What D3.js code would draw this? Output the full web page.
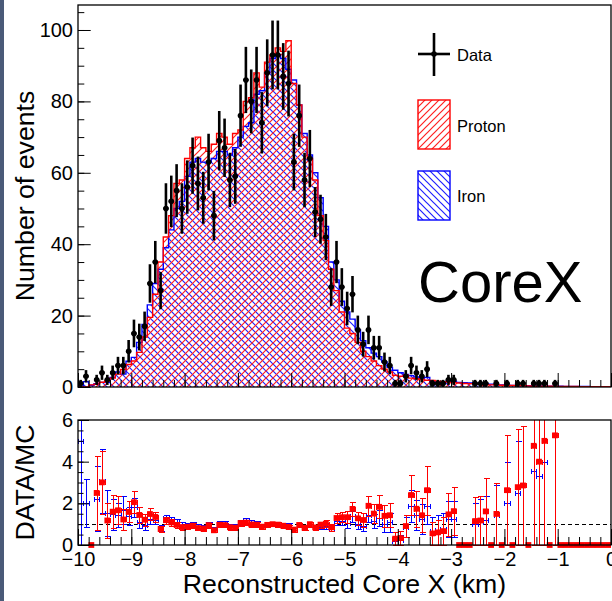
<!DOCTYPE html>
<html>
<head>
<meta charset="utf-8">
<script src="https://cdn.jsdelivr.net/npm/d3@7"></script>
<style>
  html, body { margin: 0; padding: 0; background: #fff; }
  svg { display: block; font-family: "Liberation Sans", Arial, sans-serif; }
</style>
</head>
<body>
<div id="chart"></div>
<script>
// binning of the histograms (km)
const binLow = -10;
const binWidth = 0.1;

const dataCounts = [
    1, 3, 0, 2, 4, 2, 4, 6, 6, 10,
    15, 14, 17, 29, 35, 27, 50, 52, 55, 50,
    56, 62, 57, 53, 63, 48, 69, 67, 58, 59,
    76, 86, 80, 86, 74, 88, 93, 93, 87, 85,
    63, 76, 58, 64, 49, 47, 42, 28, 35, 28,
    22, 26, 16, 12, 16, 11, 11, 7, 6, 1,
    1, 3, 6, 4, 3, 5, 1, 1, 1, 2,
    2, 0, 0, 0, 1, 1, 1, 0, 1, 0,
    1, 0, 1, 1, 0, 1, 1, 1, 0, 1,
    0, 0, 0, 0, 0, 0, 0, 0, 0, 0
];

const protonMC = [
    0, 0, 0.6, 0.8, 1.33, 1.7, 2.5, 3.6, 4.9, 6.3,
    7.3, 9.7, 14, 19.5, 26, 35, 42, 48, 57, 58,
    64, 67, 70, 67, 66, 68, 71, 70, 68, 71,
    72, 80, 81, 88, 84, 91, 93, 95, 94, 97,
    85, 79, 70, 64, 58, 48, 41, 33, 27, 21,
    16.5, 15, 12.5, 10, 8.5, 7.3, 6, 5, 4.2, 3.3,
    3.0, 3.3, 2.5, 2.3, 2.1, 1.9, 1.8, 1.65, 1.5, 1.36,
    1.23, 1.1, 1.0, 0.95, 0.87, 0.85, 0.62, 0.6, 0.67, 0.5,
    0.38, 0.4, 0.36, 0.35, 0.3, 0.21, 0.25, 0.2, 0.2, 0.19,
    0.15, 0.15, 0.12, 0.12, 0.1, 0.1, 0.08, 0.08, 0.05, 0.05
];

const ironMC = [
    0.2, 1.5, 0.5, 0.9, 1.3, 1.3, 2.7, 4.2, 3.6, 7.2,
    8.3, 12.5, 17.5, 23, 29, 33, 39, 44, 50, 52,
    59, 63, 64, 63, 63, 64, 66, 66, 65, 67,
    70, 73, 74, 82, 83, 88, 92, 93, 92, 89,
    86, 79, 71, 65, 60, 53, 45, 35, 30, 24,
    21, 19, 16, 13, 11, 9.5, 8.5, 7, 5.5, 4.7,
    4, 3.5, 3.2, 2.8, 2.4, 2.7, 1.5, 1.4, 1.3, 1.6,
    1.6, 1.3, 1.2, 1.1, 1.0, 0.9, 0.85, 0.8, 0.7, 0.6,
    0.5, 0.45, 0.4, 0.35, 0.33, 0.28, 0.3, 0.25, 0.22, 0.15,
    0.2, 0.18, 0.15, 0.15, 0.12, 0.12, 0.1, 0.1, 0.08, 0.06
];

const xTickValues = [-10, -9, -8, -7, -6, -5, -4, -3, -2, -1, 0];
const countTickValues = [0, 20, 40, 60, 80, 100];
const ratioTickValues = [0, 2, 4, 6];

const legendItems = ["Data", "Proton", "Iron"];

const W = 612, H = 601;
const left = 78, right = 611;
const topPanel = { top: 5, bottom: 387 };
const ratioPanel = { top: 420, bottom: 545 };
const FONT = "Liberation Sans, Arial, sans-serif";

const svg = d3.select("#chart")
    .append("svg")
    .attr("width", W)
    .attr("height", H);

svg.append("rect")
    .attr("x", 0).attr("y", 0)
    .attr("width", 4).attr("height", H)
    .attr("fill", "#4a5a78");

const x = d3.scaleLinear().domain([binLow, 0]).range([left, right]);
const y = d3.scaleLinear().domain([0, 107]).range([topPanel.bottom, topPanel.top]);
const yr = d3.scaleLinear().domain([0, 6]).range([ratioPanel.bottom, ratioPanel.top]);

const defs = svg.append("defs");

// hatch tiles: "/" for proton, "\" for iron
const T = 7;
const hatch = (id, color, d) => {
    defs.append("pattern")
        .attr("id", id)
        .attr("patternUnits", "userSpaceOnUse")
        .attr("width", T).attr("height", T)
      .append("path")
        .attr("d", d)
        .style("stroke", color)
        .style("stroke-width", "1.2px")
        .style("fill", "none");
};
hatch("hatchP", "#ff2020", `M-2,2 L2,-2 M-2,${T + 2} L${T + 2},-2 M${T - 2},${T + 2} L${T + 2},${T - 2}`);
hatch("hatchI", "#2020ff", `M-2,${T - 2} L2,${T + 2} M-2,-2 L${T + 2},${T + 2} M${T - 2},-2 L${T + 2},2`);

defs.append("clipPath").attr("id", "clipTop")
  .append("rect")
    .attr("x", left).attr("y", topPanel.top)
    .attr("width", right - left).attr("height", topPanel.bottom - topPanel.top);

defs.append("clipPath").attr("id", "clipRatio")
  .append("rect")
    .attr("x", left).attr("y", ratioPanel.top)
    .attr("width", right - left).attr("height", ratioPanel.bottom - ratioPanel.top + 4);

const edges = (arr) => {
    const pts = arr.map((v, i) => [binLow + i * binWidth, v]);
    pts.push([binLow + arr.length * binWidth, arr[arr.length - 1]]);
    return pts;
};
const binCenter = (i) => binLow + (i + 0.5) * binWidth;
const snap = (v) => Math.round(v) + 0.5;

// ---- top panel ----
const gTop = svg.append("g").attr("clip-path", "url(#clipTop)");

const area = d3.area()
    .x(d => x(d[0]))
    .y0(y(0))
    .y1(d => y(d[1]))
    .curve(d3.curveStepAfter);

const step = d3.line()
    .x(d => x(d[0]))
    .y(d => y(d[1]))
    .curve(d3.curveStepAfter);

const hists = [
    { values: ironMC, color: "#0000ff", fill: "url(#hatchI)" },
    { values: protonMC, color: "#ff0000", fill: "url(#hatchP)" }
];

hists.forEach(h => {
    gTop.append("path")
        .attr("d", area(edges(h.values)))
        .attr("fill", h.fill);
});
hists.forEach(h => {
    gTop.append("path")
        .attr("d", step(edges(h.values)))
        .attr("fill", "none")
        .attr("stroke", h.color)
        .attr("stroke-width", 1.4);
});

const points = dataCounts
    .map((n, i) => ({ i, n }))
    .filter(d => d.n > 0);

const dataG = gTop.append("g");
dataG.selectAll(".ey")
    .data(points)
    .enter().append("line")
    .attr("x1", d => x(binCenter(d.i)))
    .attr("x2", d => x(binCenter(d.i)))
    .attr("y1", d => y(d.n - Math.sqrt(d.n)))
    .attr("y2", d => y(d.n + Math.sqrt(d.n)))
    .attr("stroke", "#000")
    .attr("stroke-width", 2.6);
dataG.selectAll(".ex")
    .data(points)
    .enter().append("line")
    .attr("x1", d => x(binLow + d.i * binWidth))
    .attr("x2", d => x(binLow + (d.i + 1) * binWidth))
    .attr("y1", d => y(d.n))
    .attr("y2", d => y(d.n))
    .attr("stroke", "#000")
    .attr("stroke-width", 2);
dataG.selectAll("circle")
    .data(points)
    .enter().append("circle")
    .attr("cx", d => x(binCenter(d.i)))
    .attr("cy", d => y(d.n))
    .attr("r", 2.8)
    .attr("fill", "#000");

// axes of top panel (ticks inside the frame)
const noText = g => { g.select(".domain").remove(); g.selectAll("text").remove(); };

svg.append("g")
    .attr("transform", `translate(${left},0)`)
    .call(d3.axisLeft(y).tickValues(d3.range(0, 106, 5)).tickSize(-6.3))
    .call(noText);
svg.append("g")
    .attr("transform", `translate(${left},0)`)
    .call(d3.axisLeft(y).tickValues(countTickValues).tickSize(-12.7).tickPadding(5).tickFormat(d3.format("d")))
    .call(g => g.select(".domain").remove())
    .selectAll("text")
    .style("font-size", "20px")
    .style("font-family", FONT)
    .attr("fill", "#000");

svg.append("g")
    .attr("transform", `translate(0,${topPanel.bottom})`)
    .call(d3.axisBottom(x).tickValues(d3.range(-10, 0.01, 0.2)).tickSize(-7))
    .call(noText);
svg.append("g")
    .attr("transform", `translate(0,${topPanel.bottom})`)
    .call(d3.axisBottom(x).tickValues(xTickValues).tickSize(-14))
    .call(noText);

svg.append("rect")
    .attr("x", left).attr("y", topPanel.top)
    .attr("width", right - left).attr("height", topPanel.bottom - topPanel.top)
    .attr("fill", "none")
    .attr("stroke", "#000")
    .attr("stroke-width", 1.3);

svg.append("text")
    .attr("transform", `translate(33.5,${(topPanel.top + topPanel.bottom) / 2}) rotate(-90)`)
    .attr("text-anchor", "middle")
    .style("font-size", "26.7px")
    .text("Number of events");

// legend
const legend = svg.append("g");
const lx = 418, lw = 32;
legend.append("line")
    .attr("x1", lx).attr("x2", lx + lw).attr("y1", 54).attr("y2", 54)
    .attr("stroke", "#000").attr("stroke-width", 2.6);
legend.append("line")
    .attr("x1", lx + lw / 2).attr("x2", lx + lw / 2).attr("y1", 33).attr("y2", 76)
    .attr("stroke", "#000").attr("stroke-width", 2.6);
legend.append("circle")
    .attr("cx", lx + lw / 2).attr("cy", 54).attr("r", 2.8).attr("fill", "#000");

[{ y: 100, fill: "url(#hatchP)", color: "#ff0000" }, { y: 171, fill: "url(#hatchI)", color: "#0000ff" }]
    .forEach(b => {
        legend.append("rect")
            .attr("x", lx).attr("y", b.y).attr("width", lw).attr("height", 49)
            .attr("fill", b.fill)
            .attr("stroke", b.color)
            .attr("stroke-width", 1.4);
    });

legend.selectAll(".lt")
    .data(legendItems)
    .enter().append("text")
    .attr("x", 457)
    .attr("y", (d, i) => [60.5, 131.5, 201.5][i])
    .style("font-size", "16.5px")
    .text(d => d);

svg.append("text")
    .attr("x", 418)
    .attr("y", 302)
    .style("font-size", "58px")
    .text("CoreX");

// ---- ratio panel ----
const gRatio = svg.append("g").attr("clip-path", "url(#clipRatio)");

gRatio.append("line")
    .attr("x1", left).attr("x2", right)
    .attr("y1", snap(yr(1))).attr("y2", snap(yr(1)))
    .attr("stroke", "#000")
    .attr("stroke-width", 1)
    .attr("stroke-dasharray", "4,3");

const ratioSeries = [
    { mc: ironMC, color: "#0000ff", marker: false },
    { mc: protonMC, color: "#ff0000", marker: true }
];

ratioSeries.forEach(s => {
    const pts = dataCounts
        .map((n, i) => ({ i, n, m: s.mc[i] }))
        .filter(d => d.m > 0)
        .map(d => {
            const r = d.n / d.m;
            const e = d.n > 0 ? r / Math.sqrt(d.n) : 0;
            return { i: d.i, r, lo: Math.max(r - e, 0), hi: r + e, e };
        });

    const g = gRatio.append("g")
        .attr("stroke", s.color)
        .attr("stroke-width", 1)
        .attr("shape-rendering", "crispEdges");

    const withErr = pts.filter(d => d.e > 0);
    g.selectAll(".ey")
        .data(withErr)
        .enter().append("line")
        .attr("x1", d => snap(x(binCenter(d.i)))).attr("x2", d => snap(x(binCenter(d.i))))
        .attr("y1", d => yr(d.lo)).attr("y2", d => yr(d.hi));
    g.selectAll(".cap")
        .data(withErr.flatMap(d => [d.lo, d.hi].map(v => ({ i: d.i, v }))))
        .enter().append("line")
        .attr("x1", d => snap(x(binCenter(d.i))) - 3).attr("x2", d => snap(x(binCenter(d.i))) + 3)
        .attr("y1", d => snap(yr(d.v))).attr("y2", d => snap(yr(d.v)));
    g.selectAll(".ex")
        .data(pts.filter(d => d.r > 0))
        .enter().append("path")
        .attr("fill", "none")
        .attr("d", d => {
            const x0 = snap(x(binLow + d.i * binWidth)), x1 = snap(x(binLow + (d.i + 1) * binWidth));
            const yy = snap(yr(d.r));
            return `M${x0},${yy} H${x1} M${x0},${yy - 2.5} V${yy + 2.5} M${x1},${yy - 2.5} V${yy + 2.5}`;
        });

    if (s.marker) {
        gRatio.selectAll(".sq")
            .data(pts)
            .enter().append("rect")
            .attr("x", d => x(binCenter(d.i)) - 2.9)
            .attr("y", d => yr(d.r) - 2.9)
            .attr("width", 5.8).attr("height", 5.8)
            .attr("fill", s.color);
    }
});

svg.append("g")
    .attr("transform", `translate(${left},0)`)
    .call(d3.axisLeft(yr).tickValues(d3.range(0, 6.01, 0.5)).tickSize(-5.5))
    .call(noText);
svg.append("g")
    .attr("transform", `translate(${left},0)`)
    .call(d3.axisLeft(yr).tickValues(ratioTickValues).tickSize(-11).tickPadding(5).tickFormat(d3.format("d")))
    .call(g => g.select(".domain").remove())
    .selectAll("text")
    .style("font-size", "20px")
    .style("font-family", FONT)
    .attr("fill", "#000");

svg.append("g")
    .attr("transform", `translate(0,${ratioPanel.bottom})`)
    .call(d3.axisBottom(x).tickValues(d3.range(-10, 0.01, 0.2)).tickSize(-8))
    .call(noText);
svg.append("g")
    .attr("transform", `translate(0,${ratioPanel.bottom})`)
    .call(d3.axisBottom(x).tickValues(xTickValues).tickSize(-16).tickPadding(7)
        .tickFormat(d => d < 0 ? "\u2212" + Math.abs(d) : String(d)))
    .call(g => g.select(".domain").remove())
    .selectAll("text")
    .style("font-size", "20px")
    .style("font-family", FONT)
    .attr("fill", "#000");

svg.append("rect")
    .attr("x", left).attr("y", ratioPanel.top)
    .attr("width", right - left).attr("height", ratioPanel.bottom - ratioPanel.top)
    .attr("fill", "none")
    .attr("stroke", "#000")
    .attr("stroke-width", 1.3);

svg.append("text")
    .attr("transform", `translate(33.5,${(ratioPanel.top + ratioPanel.bottom) / 2}) rotate(-90)`)
    .attr("text-anchor", "middle")
    .style("font-size", "26.7px")
    .text("DATA/MC");

svg.append("text")
    .attr("x", (left + right) / 2)
    .attr("y", 593)
    .attr("text-anchor", "middle")
    .style("font-size", "26.7px")
    .text("Reconstructed Core X (km)");
</script>
</body>
</html>
